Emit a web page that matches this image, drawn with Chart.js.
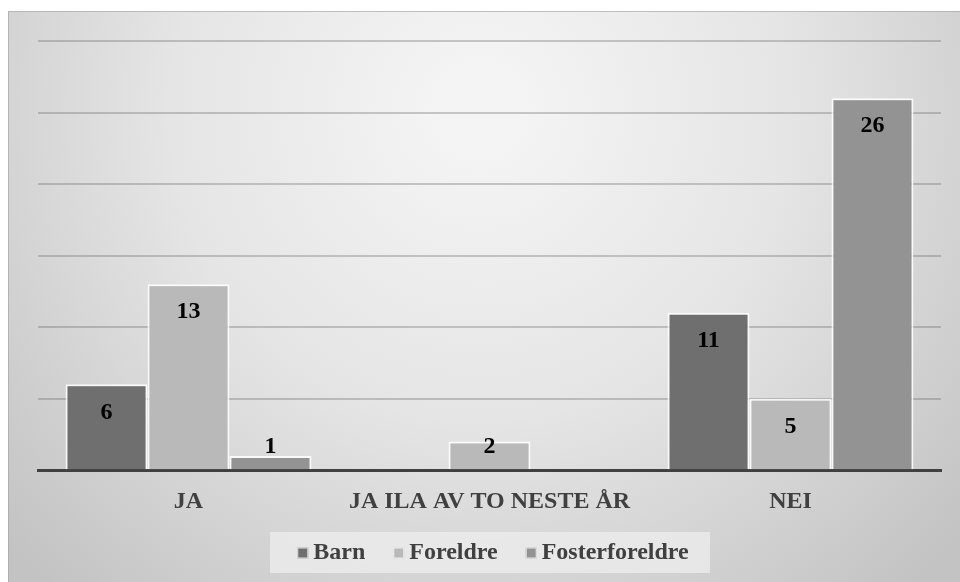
<!DOCTYPE html>
<html>
<head>
<meta charset="utf-8">
<script src="https://cdn.jsdelivr.net/npm/chart.js@4"></script>
<style>
  html, body { margin: 0; padding: 0; background: #ffffff; }
  #wrap { width: 960px; height: 582px; position: relative; }
</style>
</head>
<body>
<div id="wrap"><canvas id="grafico"></canvas></div>
<script>
const kategorier = ["JA", "JA ILA AV TO NESTE ÅR", "NEI"];
const serier = ["Barn", "Foreldre", "Fosterforeldre"];
const barn = [6, 0, 11];
const foreldre = [13, 2, 5];
const fosterforeldre = [1, 0, 26];
const farger = ["#6f6f6f", "#b9b9b9", "#939393"];
const yTicks = [0, 5, 10, 15, 20, 25, 30];

const FONT = "'Liberation Serif', 'Times New Roman', serif";

// bakgrunn med radial gradient, som i Excel-malen
const bakgrunnPlugin = {
    id: "bakgrunn",
    beforeDraw(chart) {
        const ctx = chart.ctx;
        ctx.save();
        ctx.fillStyle = "#ffffff";
        ctx.fillRect(0, 0, chart.width, chart.height);
        const g = ctx.createRadialGradient(480, 110, 40, 480, 110, 640);
        g.addColorStop(0, "#f4f4f4");
        g.addColorStop(0.45, "#e5e5e5");
        g.addColorStop(1, "#c3c3c3");
        ctx.fillStyle = g;
        ctx.fillRect(8, 11, chart.width - 8, chart.height - 11);
        ctx.strokeStyle = "rgba(160,160,160,0.6)";
        ctx.lineWidth = 1;
        ctx.beginPath();
        ctx.moveTo(8.5, chart.height);
        ctx.lineTo(8.5, 11.5);
        ctx.lineTo(chart.width, 11.5);
        ctx.stroke();
        ctx.restore();
    }
};

// verdietiketter innerst i toppen av søylene
const etikettPlugin = {
    id: "etiketter",
    afterDraw(chart) {
        const ctx = chart.ctx;
        const bunn = chart.scales.y.getPixelForValue(0);
        ctx.save();
        ctx.font = "bold 24px " + FONT;
        ctx.fillStyle = "#000000";
        ctx.textAlign = "center";
        ctx.textBaseline = "middle";
        chart.data.datasets.forEach((ds, i) => {
            chart.getDatasetMeta(i).data.forEach((bar, j) => {
                const v = ds.data[j];
                if (!v) return;
                const y = Math.min(bar.y + 28, bunn - 23);
                ctx.fillText(String(v), bar.x, y);
            });
        });
        ctx.restore();
    }
};

// forklaring med lys boks under aksen
const forklaringPlugin = {
    id: "forklaring",
    afterDraw(chart) {
        const ctx = chart.ctx;
        ctx.save();
        ctx.fillStyle = "rgba(238,238,238,0.75)";
        ctx.fillRect(270, 532, 440, 41);
        ctx.font = "bold 24px " + FONT;
        ctx.textBaseline = "middle";
        ctx.textAlign = "left";
        const boks = 11, gap = 5, mellom = 28;
        const bredder = chart.data.datasets.map(ds => ctx.measureText(ds.label).width);
        let total = 0;
        bredder.forEach((b, i) => { total += boks + gap + b + (i ? mellom : 0); });
        let x = 493 - total / 2;
        const yc = 553;
        chart.data.datasets.forEach((ds, i) => {
            ctx.fillStyle = ds.backgroundColor;
            ctx.fillRect(x, yc - boks / 2, boks, boks);
            ctx.strokeStyle = "rgba(255,255,255,0.8)";
            ctx.lineWidth = 1;
            ctx.strokeRect(x + 0.5, yc - boks / 2 + 0.5, boks - 1, boks - 1);
            ctx.fillStyle = "#404040";
            ctx.fillText(ds.label, x + boks + gap, yc);
            x += boks + gap + bredder[i] + mellom;
        });
        ctx.restore();
    }
};

function lagDatasett(navn, data, farge) {
    return {
        label: navn,
        data: data,
        backgroundColor: farge,
        borderColor: "rgba(255,255,255,0.85)",
        borderWidth: 2,
        categoryPercentage: 0.817,
        barPercentage: 1.0
    };
}

function tegnGraf() {
    const canvas = document.getElementById("grafico");
    const ctx = canvas.getContext("2d");
    return new Chart(ctx, {
        type: "bar",
        data: {
            labels: kategorier,
            datasets: [
                lagDatasett(serier[0], barn, farger[0]),
                lagDatasett(serier[1], foreldre, farger[1]),
                lagDatasett(serier[2], fosterforeldre, farger[2])
            ]
        },
        options: {
            responsive: true,
            maintainAspectRatio: false,
            animation: false,
            layout: { padding: { left: 38, right: 19, top: 41, bottom: 49 } },
            plugins: {
                legend: { display: false },
                tooltip: { enabled: false }
            },
            scales: {
                x: {
                    grid: { display: false, drawTicks: false },
                    border: { display: true, color: "#404040", width: 3 },
                    ticks: {
                        color: "#404040",
                        padding: 17,
                        font: { family: FONT, size: 24, weight: "bold" }
                    }
                },
                y: {
                    min: 0,
                    max: 30,
                    z: 1,
                    afterBuildTicks: axis => { axis.ticks = yTicks.map(v => ({ value: v })); },
                    ticks: { display: false },
                    border: { display: false },
                    grid: {
                        drawTicks: false,
                        lineWidth: 2,
                        color: c => (c.tick && c.tick.value === 0) ? "rgba(0,0,0,0)" : "rgba(105,105,105,0.34)"
                    }
                }
            }
        },
        plugins: [bakgrunnPlugin, etikettPlugin, forklaringPlugin]
    });
}

tegnGraf();
</script>
</body>
</html>
